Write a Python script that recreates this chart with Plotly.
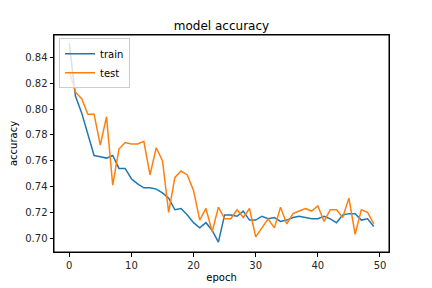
import plotly.graph_objects as go

epochs = list(range(50))
train_acc = [0.851, 0.810, 0.797, 0.781, 0.764, 0.763, 0.762, 0.764, 0.754, 0.754,
             0.746, 0.742, 0.739, 0.739, 0.738, 0.735, 0.731, 0.722, 0.723, 0.718,
             0.712, 0.708, 0.712, 0.706, 0.697, 0.718, 0.718, 0.717, 0.721, 0.714,
             0.714, 0.717, 0.715, 0.716, 0.713, 0.714, 0.716, 0.717, 0.716, 0.715,
             0.715, 0.717, 0.715, 0.712, 0.718, 0.719, 0.719, 0.714, 0.715, 0.709]
test_acc = [0.829, 0.813, 0.808, 0.796, 0.796, 0.772, 0.794, 0.741, 0.769, 0.774,
            0.773, 0.773, 0.775, 0.749, 0.770, 0.760, 0.720, 0.747, 0.752, 0.749,
            0.737, 0.714, 0.723, 0.705, 0.724, 0.715, 0.715, 0.722, 0.716, 0.723,
            0.701, 0.708, 0.715, 0.708, 0.724, 0.711, 0.719, 0.721, 0.723, 0.721,
            0.725, 0.713, 0.722, 0.722, 0.716, 0.731, 0.703, 0.722, 0.720, 0.711]
x_ticks = [0, 10, 20, 30, 40, 50]
y_ticks = [0.70, 0.72, 0.74, 0.76, 0.78, 0.80, 0.82, 0.84]

fig = go.Figure()
fig.add_trace(go.Scatter(x=epochs, y=train_acc, mode="lines", name="train",
                         line=dict(color="#1f77b4", width=1.5)))
fig.add_trace(go.Scatter(x=epochs, y=test_acc, mode="lines", name="test",
                         line=dict(color="#ff7f0e", width=1.5)))

font = "DejaVu Sans"
fig.update_layout(
    width=432, height=288,
    margin=dict(l=54, r=43, t=35, b=36, autoexpand=False),
    paper_bgcolor="white", plot_bgcolor="white",
    font=dict(family=font, size=10, color="#262626"),
    title=dict(text="model accuracy", x=0.5, xanchor="center", xref="paper",
               y=1, yref="paper", yanchor="bottom", pad=dict(b=5),
               font=dict(family=font, size=12, color="black")),
    showlegend=True,
    legend=dict(x=0.015, y=0.985, xanchor="left", yanchor="top",
                bgcolor="rgba(255,255,255,0.8)", bordercolor="#cccccc", borderwidth=1,
                font=dict(family=font, size=10, color="black"),
                tracegroupgap=0, itemwidth=30),
    xaxis=dict(range=[-2.45, 51.45], tickvals=x_ticks, ticktext=[str(v) for v in x_ticks],
               showgrid=False, zeroline=False, showline=True, linecolor="black", linewidth=1,
               mirror=True, ticks="outside", ticklen=3.5, tickcolor="black", automargin=False,
               title=dict(text="epoch", font=dict(family=font, size=10, color="black"), standoff=4)),
    yaxis=dict(range=[0.6893, 0.8573], tickvals=y_ticks, ticktext=[f"{v:.2f}" for v in y_ticks],
               showgrid=False, zeroline=False, showline=True, linecolor="black", linewidth=1,
               mirror=True, ticks="outside", ticklen=3.5, tickcolor="black", automargin=False,
               title=dict(text="accuracy", font=dict(family=font, size=10, color="black"), standoff=5)),
    shapes=[dict(type="rect", xref="paper", yref="paper", x0=0, x1=1, y0=0, y1=1,
                 line=dict(color="black", width=1), fillcolor="rgba(0,0,0,0)", layer="above")],
)
fig.write_html("out.html", config={"displayModeBar": False},
               post_script="document.body.style.margin='0';document.body.style.padding='0';")
